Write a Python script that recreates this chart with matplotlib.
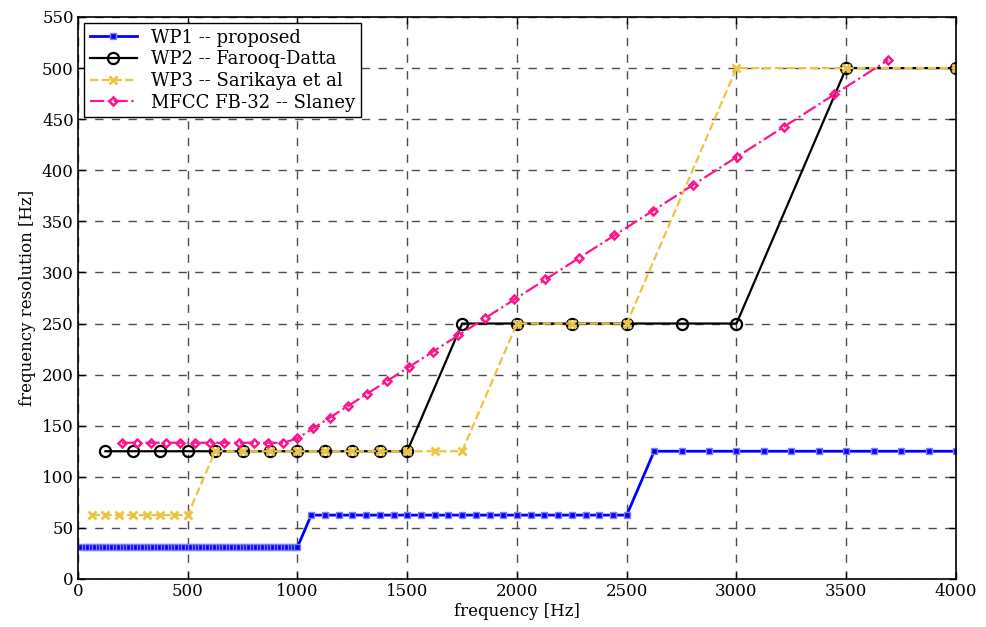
import matplotlib
matplotlib.use("Agg")
import matplotlib.pyplot as plt
import numpy as np

# WP1 -- proposed
wp1_freq = ([15.625 * k for k in range(1, 65)]
            + [1062.5 + 62.5 * k for k in range(24)]
            + [2625 + 125 * k for k in range(12)])
wp1_res = [31.25] * 64 + [62.5] * 24 + [125] * 12

# WP2 -- Farooq-Datta
wp2_freq = [125, 250, 375, 500, 625, 750, 875, 1000, 1125, 1250, 1375, 1500,
            1750, 2000, 2250, 2500, 2750, 3000, 3500, 4000]
wp2_res = [125] * 12 + [250] * 6 + [500] * 2

# WP3 -- Sarikaya et al
wp3_freq = [62.5, 125, 187.5, 250, 312.5, 375, 437.5, 500,
            625, 750, 875, 1000, 1125, 1250, 1375, 1500, 1625, 1750,
            2000, 2250, 2500, 3000, 3500, 4000]
wp3_res = [62.5] * 8 + [125] * 10 + [250] * 3 + [500] * 3

# MFCC FB-32 -- Slaney
mfcc_freq = [200.0, 266.7, 333.3, 400.0, 466.7, 533.3, 600.0, 666.7, 733.3,
             800.0, 866.7, 933.3, 999.8, 1070.9, 1147.1, 1228.8, 1316.2,
             1409.9, 1510.2, 1617.7, 1732.9, 1856.2, 1988.3, 2129.8, 2281.4,
             2443.8, 2617.7, 2804.0, 3003.5, 3217.3, 3446.3, 3691.5]
mfcc_res = [133.3] * 11 + [133.1, 137.6, 147.4, 157.9, 169.1, 181.1, 194.0,
                           207.8, 222.6, 238.5, 255.4, 273.6, 293.1, 314.0,
                           336.3, 360.2, 385.9, 413.3, 442.7, 474.3, 508.0]

plt.rcParams['font.family'] = ['DejaVu Serif']
plt.rcParams['font.size'] = 12

fig = plt.figure(figsize=(9.87, 6.27), dpi=100)
ax = fig.add_axes([0.079, 0.0766, 0.8896, 0.8963])

ax.plot(wp1_freq, wp1_res, '-', color='blue', lw=2, marker='s', ms=5,
        mfc='blue', mec=(0.5, 0.5, 1.0), mew=1, label='WP1 -- proposed')
ax.plot(wp2_freq, wp2_res, '-', color='black', lw=1.6, marker='o', ms=8,
        mfc='none', mec='black', mew=1.6, label='WP2 -- Farooq-Datta')
ax.plot(wp3_freq, wp3_res, '--', color=(0.93, 0.77, 0.25), lw=1.6,
        marker='x', ms=6, mew=2, label='WP3 -- Sarikaya et al')
ax.plot(mfcc_freq, mfcc_res, '-.', color=(1.0, 0.08, 0.55), lw=1.6,
        marker='D', ms=4.5, mfc='none', mew=1.8, label='MFCC FB-32 -- Slaney')

ax.set_xlim(0, 4000)
ax.set_ylim(0, 550)
ax.set_xticks(np.arange(0, 4001, 500))
ax.set_yticks(np.arange(0, 551, 50))
ax.tick_params(direction='in', top=True, right=True, length=5, width=1,
               labelsize=12, pad=3)
for s in ax.spines.values():
    s.set_linewidth(1.2)

ax.grid(True, color='0.3', linestyle=(0, (6, 6)), linewidth=1)
ax.set_axisbelow(True)

ax.set_xlabel('frequency [Hz]', fontsize=12, labelpad=2)
ax.set_ylabel('frequency resolution [Hz]', fontsize=12, labelpad=4)

leg = ax.legend(loc='upper left', fontsize=13, fancybox=False,
                framealpha=1, edgecolor='black', borderpad=0.3,
                labelspacing=0.2, handlelength=2.6, handletextpad=0.8,
                borderaxespad=0.35)
leg.get_frame().set_linewidth(1)

fig.savefig('out.png', dpi=100)
